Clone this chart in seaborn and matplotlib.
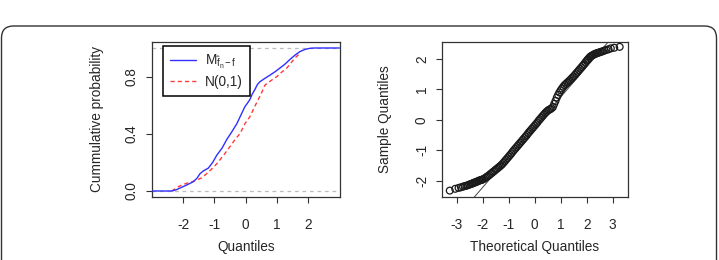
import numpy as np
import pandas as pd
import matplotlib
matplotlib.use("Agg")
import matplotlib.pyplot as plt
import seaborn as sns
from matplotlib.patches import FancyBboxPatch
from matplotlib.transforms import IdentityTransform

blue_x = [-2.98, -2.35, -2.2, -2.0, -1.85, -1.67, -1.55, -1.46, -1.35, -1.19, -1.05, -0.92,
          -0.75, -0.60, -0.45, -0.28, -0.15, -0.02, 0.08, 0.14, 0.22, 0.30, 0.38, 0.46,
          0.60, 0.78, 0.95, 1.10, 1.25, 1.42, 1.58, 1.74, 1.90, 2.06, 2.20, 2.33, 3.0]
blue_y = [0.0, 0.0, 0.01, 0.03, 0.045, 0.065, 0.09, 0.12, 0.14, 0.16, 0.2, 0.25,
          0.3, 0.36, 0.41, 0.47, 0.53, 0.59, 0.62, 0.64, 0.68, 0.71, 0.745, 0.764,
          0.785, 0.81, 0.835, 0.86, 0.885, 0.92, 0.95, 0.975, 0.99, 0.998, 1.0, 1.0, 1.0]
red_x = [-2.36, -2.25, -2.15, -2.0, -1.88, -1.70, -1.56, -1.42, -1.30, -1.10, -0.92, -0.70,
         -0.50, -0.30, -0.18, -0.02, 0.14, 0.25, 0.36, 0.50, 0.62, 0.80, 1.00, 1.15,
         1.32, 1.45, 1.58, 1.70]
red_y = [0.0, 0.015, 0.03, 0.045, 0.054, 0.065, 0.077, 0.09, 0.11, 0.15, 0.19, 0.25,
         0.31, 0.37, 0.40, 0.47, 0.52, 0.57, 0.62, 0.68, 0.74, 0.77, 0.80, 0.83,
         0.86, 0.895, 0.93, 0.955]

# normal QQ plot points (theoretical, sample)
qq_theo = [-3.27, -3.06, -2.93, -2.84, -2.76, -2.69, -2.63, -2.57, -2.52, -2.47, -2.42,
           -2.38, -2.34, -2.30, -2.26, -2.22, -2.18, -2.14, -2.10, -2.06, -2.03,
           -2.00, -1.95, -1.90, -1.85, -1.80, -1.75, -1.70, -1.65, -1.60, -1.55, -1.50,
           -1.45, -1.40, -1.35, -1.30, -1.25, -1.20, -1.15, -1.10, -1.05, -1.00, -0.95,
           -0.90, -0.85, -0.80, -0.75, -0.70, -0.65, -0.60, -0.55, -0.50, -0.45, -0.40,
           -0.35, -0.30, -0.25, -0.20, -0.15, -0.10, -0.05, 0.00, 0.05, 0.10, 0.15,
           0.20, 0.25, 0.30, 0.35, 0.40, 0.45, 0.50, 0.55, 0.60, 0.65, 0.70, 0.75,
           0.80, 0.85, 0.90, 0.95, 1.00, 1.05, 1.10, 1.15, 1.20, 1.25, 1.30, 1.35,
           1.40, 1.45, 1.50, 1.55, 1.60, 1.65, 1.70, 1.75, 1.80, 1.85, 1.90, 1.95, 2.00,
           2.03, 2.06, 2.10, 2.14, 2.18, 2.22, 2.26, 2.30, 2.34, 2.38, 2.42, 2.47,
           2.52, 2.57, 2.63, 2.69, 2.76, 2.84, 2.93, 3.06, 3.27]
qq_sample = [-2.33, -2.27, -2.24, -2.22, -2.20, -2.18, -2.17, -2.15, -2.13, -2.12, -2.10,
             -2.09, -2.07, -2.06, -2.05, -2.03, -2.02, -2.00, -1.99, -1.98, -1.97,
             -1.96, -1.94, -1.91, -1.88, -1.85, -1.82, -1.78, -1.75, -1.71, -1.68, -1.64,
             -1.61, -1.57, -1.54, -1.50, -1.46, -1.41, -1.36, -1.31, -1.26, -1.21, -1.16,
             -1.11, -1.05, -1.00, -0.95, -0.90, -0.85, -0.80, -0.75, -0.70, -0.65, -0.60,
             -0.55, -0.50, -0.44, -0.39, -0.34, -0.29, -0.24, -0.19, -0.14, -0.09, -0.03,
             0.02, 0.07, 0.12, 0.17, 0.22, 0.26, 0.30, 0.33, 0.35, 0.38, 0.42, 0.52,
             0.62, 0.73, 0.82, 0.90, 0.97, 1.03, 1.09, 1.14, 1.18, 1.22, 1.26, 1.30,
             1.34, 1.39, 1.43, 1.48, 1.53, 1.58, 1.63, 1.68, 1.73, 1.78, 1.83, 1.89, 1.94,
             1.97, 2.00, 2.04, 2.08, 2.10, 2.12, 2.14, 2.16, 2.17, 2.19, 2.20, 2.21,
             2.23, 2.24, 2.26, 2.28, 2.30, 2.32, 2.35, 2.37, 2.40]
qq_line_intercept = -0.24
qq_line_slope = 0.99

left_xticks = [-2, -1, 0, 1, 2]
left_yticks = [0.0, 0.4, 0.8]
right_xticks = [-3, -2, -1, 0, 1, 2, 3]
right_yticks = [-2, -1, 0, 1, 2]

sns.set_theme(style="white")
plt.rcParams["font.family"] = ["Liberation Sans", "DejaVu Sans"]
plt.rcParams["mathtext.fontset"] = "custom"
plt.rcParams["mathtext.rm"] = "Liberation Sans"
plt.rcParams["mathtext.it"] = "Liberation Sans:italic"
FS = 9.8
INK = "#262626"

fig = plt.figure(figsize=(7.19, 2.60), dpi=100)
fig.patch.set_facecolor("white")
frame = FancyBboxPatch((1.5, -20), 715, 254, boxstyle="round,pad=0,rounding_size=12",
                       transform=IdentityTransform(), fc="none", ec="#333333", lw=1.0)
fig.patches.append(frame)

ax1 = fig.add_axes([0.2114, 0.2423, 0.2615, 0.5962])
ax2 = fig.add_axes([0.6147, 0.2423, 0.2587, 0.5962])

# left: ECDFs
ecdf_df = pd.DataFrame({"x": blue_x, "y": blue_y})
norm_df = pd.DataFrame({"x": red_x, "y": red_y})
ax1.axhline(0, color="#bdbdbd", lw=0.9, ls=(0, (3, 3)), zorder=1)
ax1.axhline(1, color="#bdbdbd", lw=0.9, ls=(0, (3, 3)), zorder=1)
sns.lineplot(data=ecdf_df, x="x", y="y", ax=ax1, sort=False, color="#2f2fff", lw=1.0,
             label=r"M$_{\hat{\mathrm{f}}_\mathrm{n}-\mathrm{f}}$", zorder=3)
sns.lineplot(data=norm_df, x="x", y="y", ax=ax1, sort=False, color="#ff3a3a", lw=1.0,
             label="N(0,1)", zorder=2)
ax1.lines[-1].set_dashes((3, 2.2))
ax1.set_xlim(-2.99, 3.02)
ax1.set_ylim(-0.042, 1.042)
ax1.set_xticks(left_xticks)
ax1.set_xticklabels([str(v) for v in left_xticks])
ax1.set_yticks(left_yticks)
ax1.set_yticklabels([f"{v:.1f}" for v in left_yticks])
ax1.set_xlabel("Quantiles", fontsize=FS, color=INK, va="center")
ax1.set_ylabel("Cummulative probability", fontsize=FS, color=INK, va="center")
ax1.xaxis.set_label_coords(0.5, -0.32)
ax1.yaxis.set_label_coords(-0.294, 0.5)
leg = ax1.legend(loc="upper left", bbox_to_anchor=(0.058, 0.974), borderaxespad=0,
                 fancybox=False, edgecolor="black", framealpha=1, fontsize=FS,
                 handlelength=1.9, handletextpad=0.7, borderpad=0.5, labelspacing=0.3)
leg.get_frame().set_linewidth(1.1)
for t in leg.get_texts():
    t.set_color(INK)

# right: normal QQ plot
qq_df = pd.DataFrame({"theoretical": qq_theo, "sample": qq_sample})
sns.scatterplot(data=qq_df, x="theoretical", y="sample", ax=ax2, marker="o",
                facecolor="none", edgecolor="#1a1a1a", s=24, linewidth=0.9, zorder=3)
ax2.axline((0, qq_line_intercept), slope=qq_line_slope, color="#444444", lw=0.7, zorder=2)
ax2.set_xlim(-3.57, 3.59)
ax2.set_ylim(-2.54, 2.56)
ax2.set_xticks(right_xticks)
ax2.set_xticklabels([str(v) for v in right_xticks])
ax2.set_yticks(right_yticks)
ax2.set_yticklabels([str(v) for v in right_yticks])
ax2.set_xlabel("Theoretical Quantiles", fontsize=FS, color=INK, va="center")
ax2.set_ylabel("Sample Quantiles", fontsize=FS, color=INK, va="center")
ax2.xaxis.set_label_coords(0.5, -0.32)
ax2.yaxis.set_label_coords(-0.306, 0.5)

for ax in (ax1, ax2):
    for sp in ax.spines.values():
        sp.set_color("#333333")
        sp.set_linewidth(0.9)
    ax.tick_params(axis="both", direction="out", length=4.4, width=0.8, color="#333333",
                   labelsize=FS, labelcolor=INK, bottom=True, left=True)
    ax.tick_params(axis="x", pad=11)
    ax.tick_params(axis="y", pad=5, labelrotation=90)
    for lab in ax.get_yticklabels():
        lab.set_va("center")

fig.savefig("out.png", dpi=100, facecolor="white")
